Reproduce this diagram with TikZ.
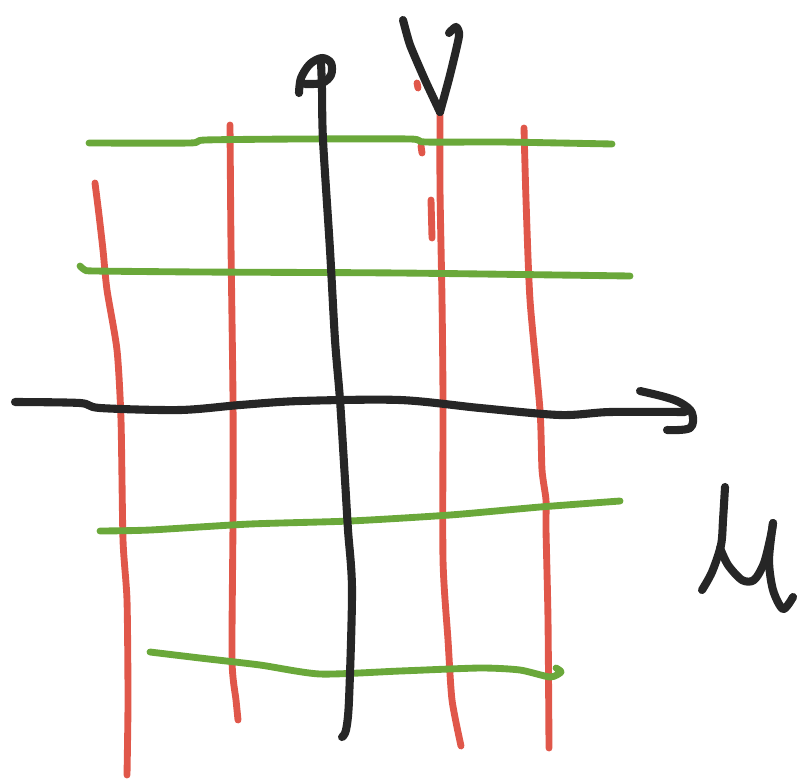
\documentclass[tikz,border=0pt]{standalone}
\definecolor{penred}{HTML}{E0574A}
\definecolor{pengreen}{HTML}{6AA83A}
\definecolor{penblack}{HTML}{262626}
\tikzset{
  stroke/.style={line cap=round, line join=round},
  redline/.style={stroke, draw=penred, line width=1.95pt},
  greenline/.style={stroke, draw=pengreen, line width=1.95pt},
  blackline/.style={stroke, draw=penblack, line width=2.3pt},
}
\begin{document}
\begin{tikzpicture}[x=0.01cm, y=-0.01cm]
\useasboundingbox (0,0) rectangle (801,782);
% red lines
\draw[redline] plot[smooth, tension=0.4] coordinates {(95,183) (99,215) (103,250) (107,290) (117,350) (121,420) (123,540) (127,600) (128,700) (127,775)};
\draw[redline] plot[smooth, tension=0.4] coordinates {(230,125) (231,245) (233,400) (233,520) (232,660) (236,700) (238,720)};
\draw[redline] plot[smooth, tension=0.4] coordinates {(440,112) (440,190) (442,300) (443,400) (443,560) (448,640) (452,700) (461,746)};
\draw[redline] (417,83) -- (418,88);
\draw[redline] (421,146) -- (422,153);
\draw[redline] (431,200) -- (432,238);
\draw[redline] plot[smooth, tension=0.4] coordinates {(524,128) (526,200) (530,300) (540,410) (542,470) (546,500) (546,530) (548,620) (549,748)};
% green lines
\draw[greenline] plot[smooth, tension=0.4] coordinates {(89,143) (190,143) (205,140) (300,139) (410,139) (425,142) (500,142) (560,143) (612,144)};
\draw[greenline] plot[smooth, tension=0.4] coordinates {(80,266) (85,270) (95,271) (200,272) (400,273) (630,276)};
\draw[greenline] plot[smooth, tension=0.4] coordinates {(100,531) (150,530) (250,524) (350,521) (450,515) (540,507) (620,501)};
\draw[greenline] plot[smooth, tension=0.4] coordinates {(150,652) (200,658) (260,665) (320,674) (400,671) (480,668) (520,670) (550,677) (561,672) (556,668)};
% black axes
\draw[blackline] plot[smooth, tension=0.5] coordinates {(15,402) (80,403) (100,408) (180,410) (240,405) (300,401) (400,400) (480,408) (560,415) (610,412) (685,412)};
\draw[blackline] plot[smooth, tension=0.6] coordinates {(640,391) (665,397) (681,403) (692,413) (690,428) (667,430)};
\draw[blackline] plot[smooth, tension=0.55] coordinates {(299,93) (301,78) (310,64) (322,58) (331,63) (331,75) (322,83) (305,84)};
\draw[blackline] plot[smooth, tension=0.5] coordinates {(321,62) (322,90) (323,140) (330,250) (335,340) (340,400) (345,480) (348,530) (352,590) (349,700) (346,730) (342,737)};
% v label
\draw[blackline] plot[smooth, tension=0.3] coordinates {(403,20) (410,45) (425,80) (440,112)};
\draw[blackline] plot[smooth, tension=0.4] coordinates {(440,112) (450,75) (459,36) (456,27) (449,33)};
% u label
\draw[blackline] plot[smooth, tension=0.5] coordinates {(725,487) (723,520) (721,545) (712,572) (702,590)};
\draw[blackline] plot[smooth, tension=0.5] coordinates {(720,548) (728,565) (742,580) (754,580) (764,563) (771,535) (773,523)};
\draw[blackline] plot[smooth, tension=0.5] coordinates {(773,523) (769,560) (773,590) (783,609) (793,597)};
\end{tikzpicture}
\end{document}
